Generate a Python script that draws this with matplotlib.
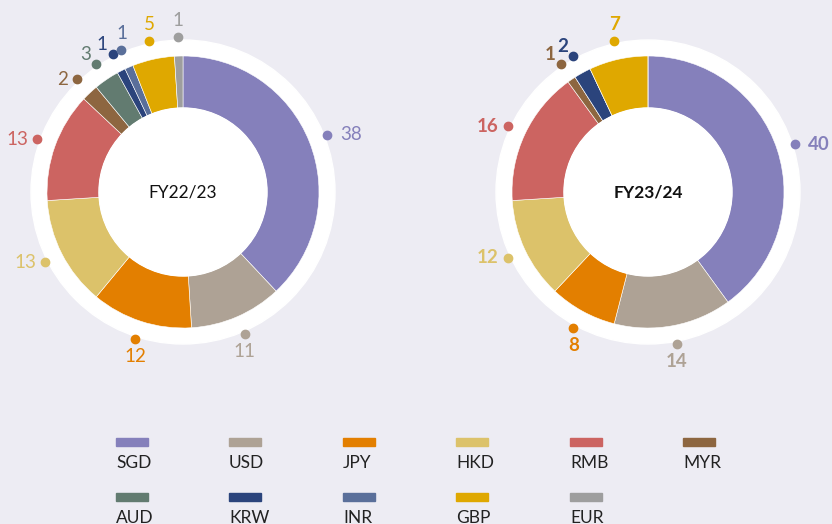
import numpy as np
import matplotlib.pyplot as plt
from matplotlib.patches import Circle, Rectangle

plt.rcParams['font.family'] = ['Lato', 'DejaVu Sans']

currencies = ['SGD', 'USD', 'JPY', 'HKD', 'RMB', 'MYR', 'AUD', 'KRW', 'INR', 'GBP', 'EUR']
colors = ['#8580bb', '#aea295', '#e37f00', '#dcc26a', '#cc6461', '#8d6640',
          '#627b70', '#2b447c', '#5a6f9a', '#dfa800', '#9e9e9e']
fy2223 = [38, 11, 12, 13, 13, 2, 3, 1, 1, 5, 1]
fy2324 = [40, 14, 8, 12, 16, 1, 0, 2, 0, 7, 0]
titles = ['FY22/23', 'FY23/24']

bg = '#edecf3'
W, H = 832, 524
fig = plt.figure(figsize=(W / 100, H / 100), dpi=100, facecolor=bg)
ax = fig.add_axes([0, 0, 1, 1])
ax.set_facecolor(bg)

R_out, R_in, R_ring, R_dot = 136, 84, 152, 155


def donut(cx, cy, values, title, bold):
    wt = 'bold' if bold else 'normal'
    ax.add_patch(Circle((cx, cy), R_ring, color='white', zorder=0))
    wedges, _ = ax.pie(values, colors=colors, radius=R_out, center=(cx, cy),
                       startangle=90, counterclock=False,
                       wedgeprops=dict(width=R_out - R_in, edgecolor='white', linewidth=0.4))
    ax.add_patch(Circle((cx, cy), R_in, color='white', zorder=3))
    ax.text(cx, cy, title, ha='center', va='center', fontsize=12.5,
            fontweight=wt, color='#111111', zorder=4)
    for w, v, c in zip(wedges, values, colors):
        if v == 0:
            continue
        ang = np.deg2rad((w.theta1 + w.theta2) / 2)
        ca, sa = np.cos(ang), np.sin(ang)
        dx, dy = cx + R_dot * ca, cy + R_dot * sa
        ax.plot(dx, dy, 'o', color=c, ms=6, zorder=5)
        if sa > 0.9:
            tx, ty, ha, va = dx, dy + 8, 'center', 'bottom'
        elif sa > 0.8 and ca < 0:
            tx, ty, ha, va = dx - 5, dy + 1, 'right', 'bottom'
        elif sa < -0.85:
            tx, ty, ha, va = dx, dy - 9, 'center', 'top'
        elif ca > 0:
            tx, ty, ha, va = dx + 13, dy, 'left', 'center'
        else:
            tx, ty, ha, va = dx - 9, dy, 'right', 'center'
        ax.text(tx, ty, str(v), ha=ha, va=va, fontsize=13.5, color=c,
                fontweight=wt, zorder=5)


donut(183, H - 192, fy2223, titles[0], False)
donut(648, H - 192, fy2324, titles[1], True)

# legend: colour bar above each label
col_x = [116, 229, 343, 456, 570, 683]
row_y = [H - 442, H - 497]
for i, (name, c) in enumerate(zip(currencies, colors)):
    r, k = divmod(i, 6)
    x, y = col_x[k], row_y[r]
    ax.add_patch(Rectangle((x, y - 4), 32, 8, color=c))
    ax.text(x, y - 21, name, ha='left', va='center', fontsize=12.5, color='#222222')

ax.set_xlim(0, W)
ax.set_ylim(0, H)
ax.set_aspect('equal')
ax.axis('off')
fig.savefig('out.png', dpi=100, facecolor=bg)
